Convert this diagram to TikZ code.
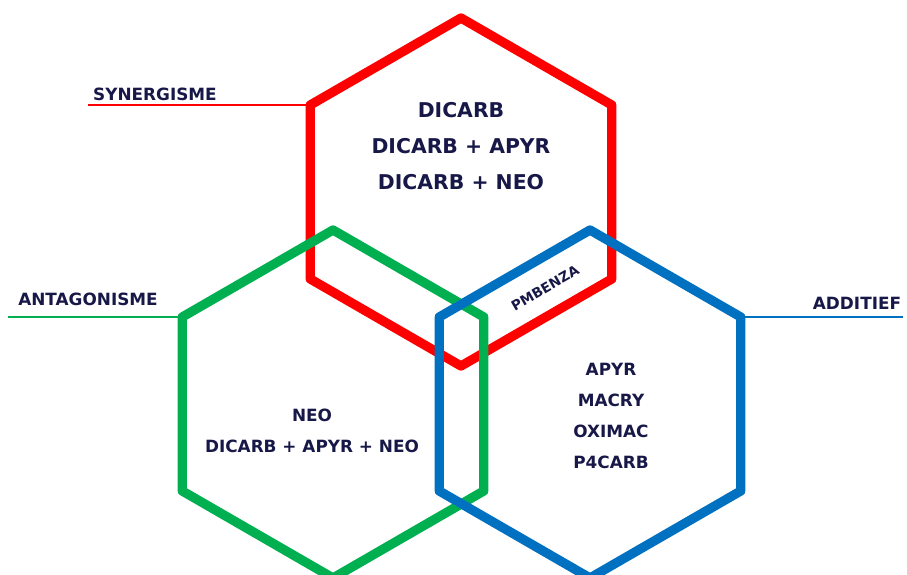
\documentclass[tikz,border=0pt]{standalone}
\usepackage{fontspec}
\setmainfont{DejaVu Sans}
\usetikzlibrary{calc}
\definecolor{synred}{RGB}{255,0,0}
\definecolor{antgreen}{RGB}{0,176,80}
\definecolor{addblue}{RGB}{0,112,192}
\definecolor{inkblue}{RGB}{24,24,72}

\begin{document}
\begin{tikzpicture}[x=0.02cm,y=0.02cm,hexa/.style={line width=5.3pt,line join=round},tag/.style={line width=1.2pt},every node/.style={text=inkblue,font=\bfseries,align=center,inner sep=0pt},big/.style={font=\fontsize{11.6}{20.5}\selectfont\bfseries},small/.style={font=\fontsize{9.6}{17.6}\selectfont\bfseries}]
  \useasboundingbox (0,0) rectangle (907,575);
  \coordinate (red) at (461,383);
  \coordinate (green) at (333,171);
  \coordinate (blue) at (590,171);
  \foreach \h in {red,green,blue}
    \foreach \a in {30,90,...,330}
      \coordinate (\h-\a) at ($(\h)+(\a:174)$);

  % hexagons
  \draw[hexa,synred] (red-30) -- (red-90) -- (red-150) -- (red-210) -- (red-270) -- (red-330) -- cycle;
  \draw[hexa,antgreen] (green-30) -- (green-90) -- (green-150) -- (green-210) -- (green-270) -- (green-330) -- cycle;
  \draw[hexa,addblue] (blue-30) -- (blue-90) -- (blue-150) -- (blue-210) -- (blue-270) -- (blue-330) -- cycle;

  % contents
  \node[big] (syntext) at (461,429) {DICARB\\DICARB + APYR\\DICARB + NEO};
  \node[small] (anttext) at (312,144) {NEO\\DICARB + APYR + NEO};
  \node[small] (addtext) at (611,159) {APYR\\MACRY\\OXIMAC\\P4CARB};
  \node[font=\fontsize{7.8}{9}\selectfont\bfseries,rotate=30] (pmbenza) at (545,287) {PMBENZA};

  % labels
  \node[small] (synlabel) at (155,481) {SYNERGISME};
  \node[small] (antlabel) at (88,276) {ANTAGONISME};
  \node[small] (addlabel) at (857,272) {ADDITIEF};
  \coordinate (synend) at (88,470);
  \coordinate (antend) at (8,258);
  \coordinate (addend) at (903,258);
  \draw[tag,synred] (synend) -- (red-150);
  \draw[tag,antgreen] (antend) -- (green-150);
  \draw[tag,addblue] (addend) -- (blue-30);
\end{tikzpicture}
\end{document}
